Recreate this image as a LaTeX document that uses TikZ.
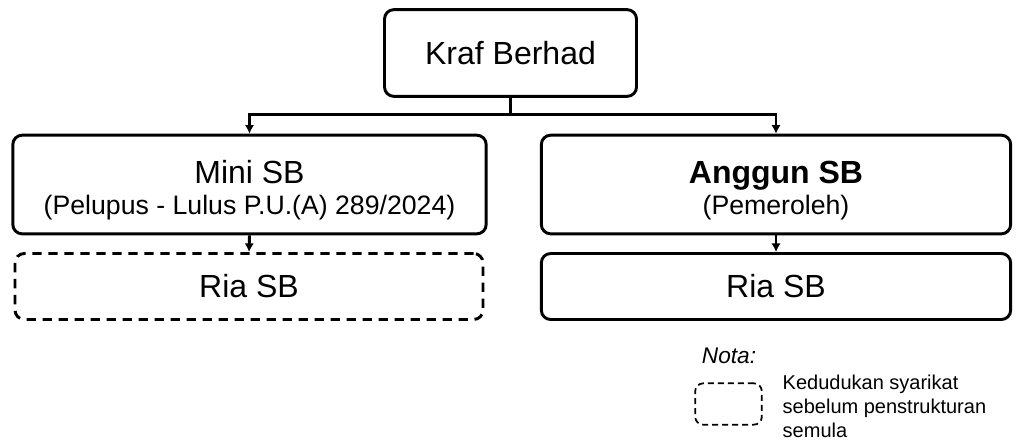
\documentclass[tikz,border=0pt]{standalone}
\usepackage{fontspec}
\setmainfont{Liberation Sans}
\usepackage{tikz}
\usetikzlibrary{arrows.meta}

\begin{document}
\begin{tikzpicture}[x=0.75pt,y=-0.75pt]
\tikzset{>={Latex[width=7pt,length=6.5pt]}}
\tikzstyle{company} =[draw, rounded corners=7pt, line width=2.2pt, align=center, font=\fontsize{24}{23}\selectfont]
\tikzstyle{oldco} =[company, dash pattern=on 7pt off 5pt]
\tikzstyle{link} =[->, line width=2.2pt]
\newcommand{\lowertop}{\rule{0pt}{26pt}}

\useasboundingbox (0,0) rectangle (1027,444);

\node[company, minimum width=189pt, minimum height=65pt](kraf) at (510.5,53){Kraf Berhad};
\node[company, minimum width=355pt, minimum height=74pt](mini) at (249.5,184.5){\lowertop Mini SB\\{\fontsize{20}{23}\selectfont (Pelupus - Lulus P.U.(A) 289/2024)}};
\node[company, minimum width=352pt, minimum height=74pt](anggun) at (776,184.5){\lowertop\textbf{Anggun SB}\\{\fontsize{20}{23}\selectfont (Pemeroleh)}};
\node[oldco, minimum width=351pt, minimum height=49.5pt](riaold) at (249,286.5){Ria SB};
\node[company, minimum width=352pt, minimum height=49.5pt](rianew) at (776,286.5){Ria SB};

\draw[link] (kraf.south) -- ++(0,17) -| (mini.north);
\draw[link] (kraf.south) -- ++(0,17) -| (anggun.north);
\draw[link] (mini.south) -- (riaold.north);
\draw[link] (anggun.south) -- (rianew.north);

% nota
\node[font=\fontsize{17}{20}\selectfont\itshape](nota) at (729,356){Nota:};
\node[draw, dash pattern=on 4.5pt off 3pt, rounded corners=6pt, line width=1.3pt, minimum width=50pt, minimum height=31pt](key) at (728.5,404){};
\node[anchor=west, align=left, font=\fontsize{15}{18}\selectfont](keytext) at (778,406){Kedudukan syarikat\\sebelum penstrukturan\\semula};
\end{tikzpicture}
\end{document}
